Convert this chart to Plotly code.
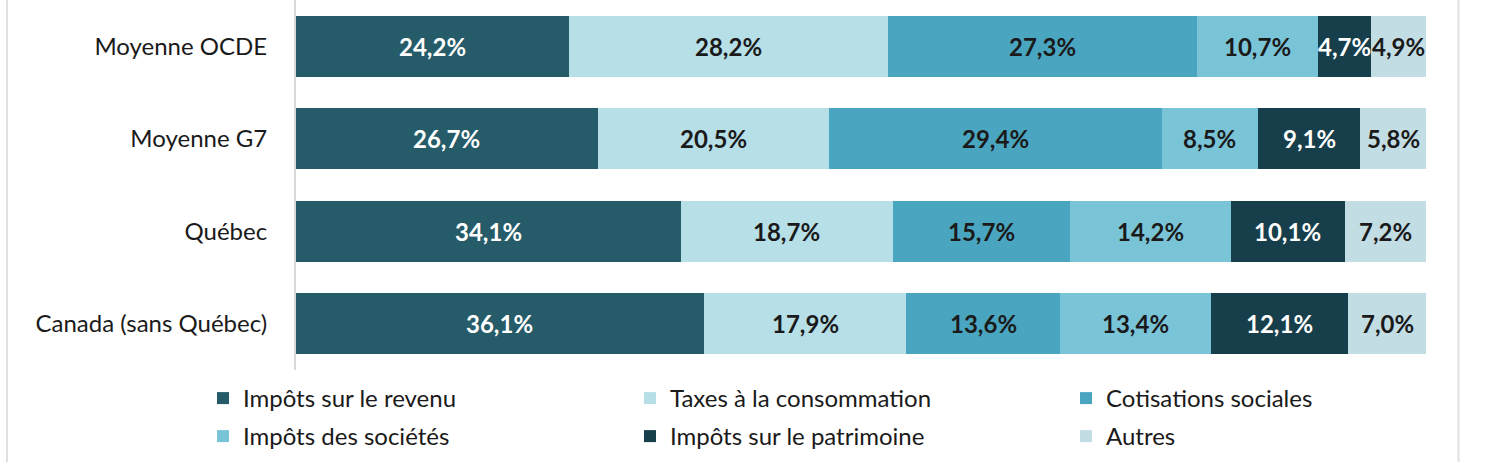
import plotly.graph_objects as go

categories = ["Canada (sans Québec)", "Québec", "Moyenne G7", "Moyenne OCDE"]
series_names = ["Impôts sur le revenu", "Taxes à la consommation", "Cotisations sociales",
                "Impôts des sociétés", "Impôts sur le patrimoine", "Autres"]
impots_revenu = [36.1, 34.1, 26.7, 24.2]
taxes_consommation = [17.9, 18.7, 20.5, 28.2]
cotisations_sociales = [13.6, 15.7, 29.4, 27.3]
impots_societes = [13.4, 14.2, 8.5, 10.7]
impots_patrimoine = [12.1, 10.1, 9.1, 4.7]
autres = [7.0, 7.2, 5.8, 4.9]

values = [impots_revenu, taxes_consommation, cotisations_sociales,
          impots_societes, impots_patrimoine, autres]
colors = ["#265B69", "#B7DFE8", "#4AA6C0", "#7AC4D8", "#173E4B", "#C3DDE5"]
text_colors = ["white", "#1A1A1A", "#1A1A1A", "#1A1A1A", "white", "#1A1A1A"]

FONT = "Lato, 'Open Sans', sans-serif"

W, H = 1488, 462
L, R, T, B = 296, 62, 0, 92
pw = W - L - R
ph = H - T - B


def px_x(p):
    return (p - L) / pw


def px_y(p):
    return (H - B - p) / ph


# legend placement (pixel left of each entry, pixel top of each row)
legend_left = [203, 630, 1066]
legend_top = [376, 414]

fig = go.Figure()
for i, (name, vals, col) in enumerate(zip(series_names, values, colors)):
    lg = "legend" if i == 0 else f"legend{i + 1}"
    fig.add_trace(go.Bar(
        y=categories, x=vals, name=name, orientation="h",
        marker=dict(color=col, line=dict(width=0)),
        textposition="none", hoverinfo="x+name",
        legend=lg,
    ))

# value labels centred in each segment
annotations = []
cum = [0.0] * len(categories)
for vals, tcol in zip(values, text_colors):
    for j, (cat, v) in enumerate(zip(categories, vals)):
        annotations.append(dict(
            x=cum[j] + v / 2, y=cat, xref="x", yref="y",
            text=f"{v:.1f}%".replace(".", ","), showarrow=False,
            font=dict(family=FONT, size=24, color=tcol, weight="bold"),
            xanchor="center", yanchor="middle",
        ))
        cum[j] += v

legend_layouts = {}
for i in range(len(series_names)):
    key = "legend" if i == 0 else f"legend{i + 1}"
    legend_layouts[key] = dict(
        orientation="h", x=px_x(legend_left[i % 3]), y=px_y(legend_top[i // 3]),
        xanchor="left", yanchor="top",
        font=dict(family=FONT, size=24, color="#1A1A1A"),
        bgcolor="rgba(0,0,0,0)", itemclick=False, itemdoubleclick=False,
    )

fig.update_layout(
    width=W, height=H,
    barmode="stack", bargap=0.34,
    margin=dict(l=L, r=R, t=T, b=B),
    plot_bgcolor="white", paper_bgcolor="white",
    font=dict(family=FONT, size=24, color="#1A1A1A"),
    xaxis=dict(range=[0, 100], visible=False, fixedrange=True),
    yaxis=dict(showline=True, linecolor="#D9D9D9", linewidth=2, ticks="",
               ticklabelstandoff=22, tickfont=dict(size=24, color="#1A1A1A"),
               showgrid=False, zeroline=False, fixedrange=True),
    annotations=annotations,
    showlegend=True,
    **legend_layouts,
)

for xp in (7, 1458.5):
    fig.add_shape(type="line", xref="paper", yref="paper",
                  x0=px_x(xp), x1=px_x(xp), y0=px_y(H + 5), y1=px_y(-5),
                  line=dict(color="#E0E0E0", width=2))

fig.write_html("out.html")
